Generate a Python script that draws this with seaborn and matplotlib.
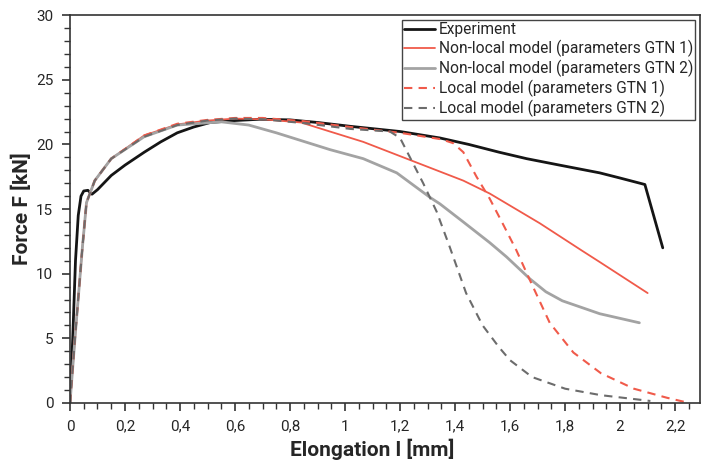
import numpy as np
import pandas as pd
import matplotlib
matplotlib.use("Agg")
import matplotlib.pyplot as plt
from matplotlib.ticker import MultipleLocator, FuncFormatter
import seaborn as sns

# Force–elongation curves
exp_x = [0, 0.01, 0.02, 0.03, 0.04, 0.05, 0.065, 0.08, 0.1, 0.15, 0.2, 0.27, 0.33,
         0.39, 0.45, 0.51, 0.6, 0.69, 0.8, 0.9, 1.02, 1.2, 1.345, 1.45, 1.56, 1.66,
         1.78, 1.926, 2.0, 2.09, 2.155]
exp_y = [0, 5, 11, 14.5, 16, 16.4, 16.45, 16.15, 16.5, 17.6, 18.4, 19.4, 20.2,
         20.9, 21.35, 21.7, 21.85, 21.95, 21.9, 21.7, 21.4, 21.0, 20.5, 20.0, 19.4,
         18.9, 18.4, 17.8, 17.4, 16.9, 12.0]

nl1_x = [0, 0.02, 0.045, 0.06, 0.09, 0.15, 0.27, 0.39, 0.5, 0.6, 0.7, 0.84, 0.945,
         1.066, 1.248, 1.43, 1.526, 1.708, 1.86, 1.926, 2.1]
nl1_y = [0, 5.5, 12, 15.5, 17.2, 18.9, 20.7, 21.55, 21.85, 22.0, 21.95, 21.7, 21.0,
         20.2, 18.7, 17.2, 16.2, 13.9, 11.8, 10.9, 8.5]

nl2_x = [0, 0.02, 0.045, 0.06, 0.09, 0.15, 0.27, 0.39, 0.55, 0.65, 0.75, 0.945,
         1.066, 1.188, 1.309, 1.345, 1.43, 1.526, 1.587, 1.672, 1.73, 1.79, 1.926,
         2.07]
nl2_y = [0, 5.5, 12, 15.5, 17.2, 18.9, 20.6, 21.5, 21.75, 21.5, 20.9, 19.6,
         18.9, 17.8, 15.9, 15.4, 14.0, 12.4, 11.3, 9.6, 8.6, 7.9, 6.9,
         6.2]

l1_x = [0, 0.02, 0.045, 0.06, 0.09, 0.15, 0.27, 0.39, 0.5, 0.6, 0.7, 0.85, 1.0,
        1.2, 1.35, 1.393, 1.43, 1.478, 1.526, 1.575, 1.623, 1.672, 1.744, 1.83,
        1.93, 2.05, 2.17, 2.24]
l1_y = [0, 5.5, 12, 15.5, 17.2, 18.9, 20.7, 21.6, 21.9, 22.05, 22.05, 21.8, 21.4,
        20.9, 20.4, 20.1, 19.4, 17.5, 15.8, 13.8, 11.8, 9.5, 6.2, 3.9,
        2.3, 1.1, 0.4, 0.05]

l2_x = [0, 0.02, 0.045, 0.06, 0.09, 0.15, 0.27, 0.39, 0.5, 0.6, 0.7, 0.85, 1.02,
        1.163, 1.2, 1.236, 1.284, 1.333, 1.38, 1.44, 1.5, 1.56, 1.6, 1.68, 1.8,
        1.93, 2.11]
l2_y = [0, 5.5, 12, 15.5, 17.2, 18.9, 20.6, 21.5, 21.85, 22.0, 21.95, 21.65, 21.2,
        21.0, 20.5, 19.0, 17.0, 14.8, 12.1, 8.5, 6.0, 4.3, 3.3, 2.0, 1.1,
        0.6, 0.15]

labels = ["Experiment",
          "Non-local model (parameters GTN 1)",
          "Non-local model (parameters GTN 2)",
          "Local model (parameters GTN 1)",
          "Local model (parameters GTN 2)"]

sns.set_theme(style="ticks")
plt.rcParams["font.family"] = ["Roboto", "DejaVu Sans"]

fig, ax = plt.subplots(figsize=(7.02, 4.61), dpi=100)
fig.subplots_adjust(left=0.0997, right=0.997, bottom=0.126, top=0.967)

RED = "#f05a4a"
series = [
    (exp_x, exp_y, "#151515", "-", 2.0),
    (nl1_x, nl1_y, RED, "-", 1.3),
    (nl2_x, nl2_y, "#a3a3a3", "-", 2.0),
    (l1_x, l1_y, RED, (0, (4, 3)), 1.5),
    (l2_x, l2_y, "#6c6c6c", (0, (4, 3)), 1.5),
]
for (xs, ys, col, ls, lw), lab in zip(series, labels):
    sns.lineplot(x=xs, y=ys, ax=ax, color=col, linestyle=ls, linewidth=lw,
                 label=lab, sort=False, estimator=None)

ax.set_xlim(0, 2.29)
ax.set_ylim(0, 30)
ax.xaxis.set_major_locator(MultipleLocator(0.2))
ax.xaxis.set_minor_locator(MultipleLocator(0.05))
ax.yaxis.set_major_locator(MultipleLocator(5))
ax.yaxis.set_minor_locator(MultipleLocator(1))
fmt = FuncFormatter(lambda v, p: f"{v:g}".replace(".", ","))
ax.xaxis.set_major_formatter(fmt)
ax.yaxis.set_major_formatter(fmt)
ax.tick_params(which="major", direction="out", length=6, width=1.2,
               labelsize=11, color="#333333", pad=6)
ax.tick_params(which="minor", direction="out", length=4, width=1.0, color="#333333")
for s in ax.spines.values():
    s.set_color("#333333")
    s.set_linewidth(1.2)

ax.set_xlabel("Elongation l [mm]", fontsize=15, fontweight="bold")
ax.xaxis.set_label_coords(0.479, -0.092)
ax.set_ylabel("Force F [kN]", fontsize=15, fontweight="bold", labelpad=3)

leg = ax.legend(loc="upper right", fontsize=11.2, frameon=True, fancybox=False,
                edgecolor="#444444", framealpha=1, borderpad=0.15,
                labelspacing=0.18, handlelength=2.0, handletextpad=0.2,
                borderaxespad=0.3)
leg.get_frame().set_linewidth(1.0)

plt.savefig("out.png", dpi=100)
plt.close()
